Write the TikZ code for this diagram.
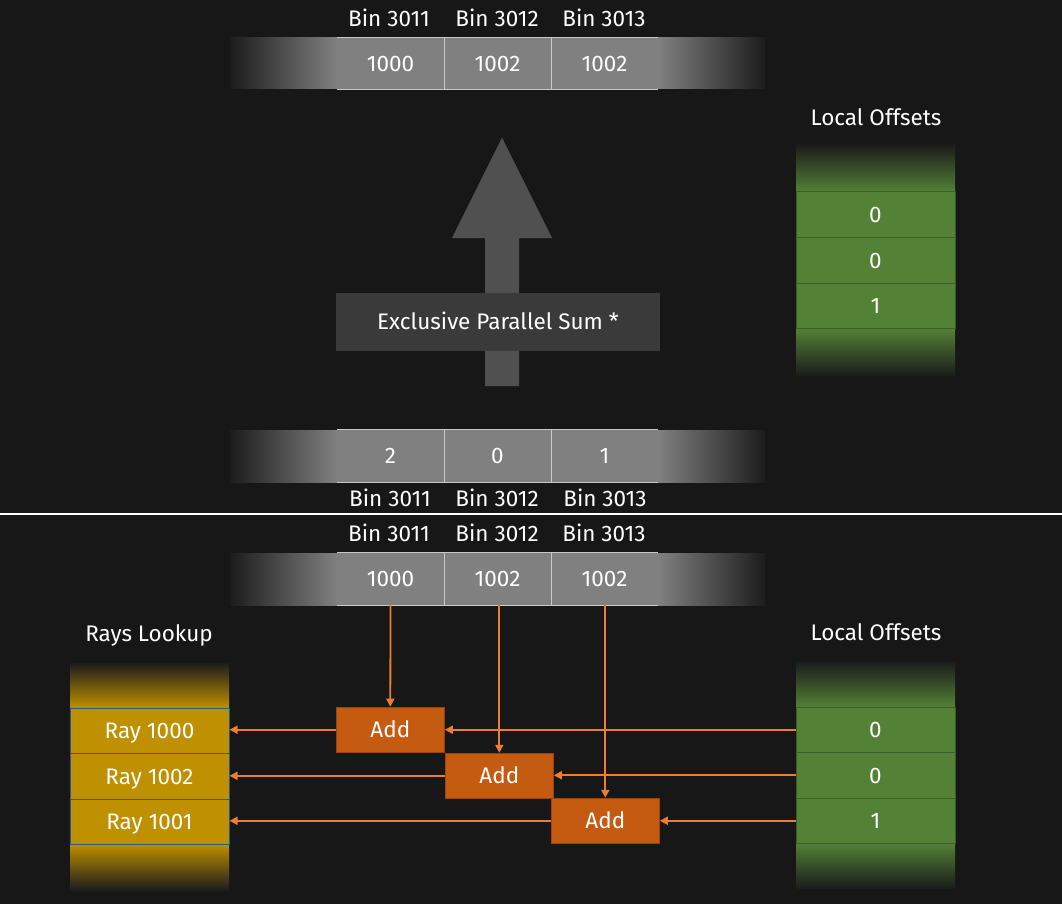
\documentclass[tikz,border=0pt]{standalone}
\usepackage{fontspec}
\setmainfont{Fira Sans}
\usetikzlibrary{arrows.meta}
\definecolor{bg}{HTML}{171717}
\definecolor{fade}{HTML}{1C1C1C}
\definecolor{barcell}{HTML}{808080}
\definecolor{barline}{HTML}{C8C8C8}
\definecolor{biggray}{HTML}{505050}
\definecolor{sumbox}{HTML}{3B3A3A}
\definecolor{green}{HTML}{538135}
\definecolor{greenline}{HTML}{3A5F26}
\definecolor{gold}{HTML}{BF9000}
\definecolor{goldline}{HTML}{2F5597}
\definecolor{addfill}{HTML}{C55A11}
\definecolor{addline}{HTML}{9A420C}
\definecolor{orange}{HTML}{ED7D31}
\begin{document}
\begin{tikzpicture}[x=1pt,y=-1pt,
  txt/.style={text=white, font=\fontsize{22.5}{26}\selectfont, inner sep=0pt, text height=15.5pt, text depth=0pt},
  barcellstyle/.style={txt, fill=barcell, minimum width=107pt, minimum height=51pt, anchor=center},
  gcell/.style={txt, fill=green, draw=greenline, line width=1pt, minimum width=159pt, minimum height=45.5pt},
  ycell/.style={txt, fill=gold, draw=goldline, line width=1pt, minimum width=159pt, minimum height=45.5pt},
  addbox/.style={txt, fill=addfill, draw=addline, line width=1pt, minimum width=108pt, minimum height=45pt},
  conn/.style={draw=orange, line width=1.8pt, -{Triangle[length=8pt,width=8pt]}},
  sepline/.style={draw=white, line width=2.2pt}
]
% background
\fill[bg] (0,0) rectangle (1062,904);
\useasboundingbox (0,0) rectangle (1062,904);

% ================= TOP SECTION =================
% top bar
\fill[left color=fade, right color=barcell] (230,38) rectangle (337,89);
\fill[left color=barcell, right color=fade] (658,38) rectangle (765,89);
\node[barcellstyle] (t1) at (390.5,63.5) {1000};
\node[barcellstyle] (t2) at (497.5,63.5) {1002};
\node[barcellstyle] (t3) at (604.5,63.5) {1002};
\draw[barline, line width=1pt] (t1.north west) -- (t3.north east) (t1.south west) -- (t3.south east)
  (t1.north east) -- (t1.south east) (t2.north east) -- (t2.south east);
\node[txt] (tb1) at (389,19) {Bin 3011};
\node[txt] (tb2) at (497,19) {Bin 3012};
\node[txt] (tb3) at (604,19) {Bin 3013};

% big arrow
\fill[biggray] (485,238) -- (452,238) -- (502,137.5) -- (552,238) -- (519,238) -- (519,386) -- (485,386) -- cycle;
\node[txt, fill=sumbox, minimum width=324pt, minimum height=58pt] (sum) at (498,321.5) {Exclusive Parallel Sum *};

% bottom bar of top section
\fill[left color=fade, right color=barcell] (230,430) rectangle (337,482);
\fill[left color=barcell, right color=fade] (658,430) rectangle (765,482);
\node[barcellstyle, minimum height=52pt] (s1) at (390.5,456) {2};
\node[barcellstyle, minimum height=52pt] (s2) at (497.5,456) {0};
\node[barcellstyle, minimum height=52pt] (s3) at (604.5,456) {1};
\draw[barline, line width=1pt] (s1.north west) -- (s3.north east) (s1.south west) -- (s3.south east)
  (s1.north east) -- (s1.south east) (s2.north east) -- (s2.south east);
\node[txt] (sb1) at (390,499) {Bin 3011};
\node[txt] (sb2) at (497,499) {Bin 3012};
\node[txt] (sb3) at (605,499) {Bin 3013};

% local offsets (top)
\node[txt] (lotitle) at (876,118) {Local Offsets};
\fill[top color=fade, bottom color=green] (796,145) rectangle (955,192);
\fill[top color=green, bottom color=fade] (796,328.5) rectangle (955,375);
\node[gcell] (lo1) at (875.5,214.75) {0};
\node[gcell] (lo2) at (875.5,260.25) {0};
\node[gcell] (lo3) at (875.5,305.75) {1};

% separator
\draw[sepline] (0,514) -- (1062,514);

% ================= BOTTOM SECTION =================
\node[txt] (cb1) at (389,534) {Bin 3011};
\node[txt] (cb2) at (497,534) {Bin 3012};
\node[txt] (cb3) at (604,534) {Bin 3013};
\fill[left color=fade, right color=barcell] (230,553) rectangle (337,605);
\fill[left color=barcell, right color=fade] (658,553) rectangle (765,605);
\node[barcellstyle, minimum height=52pt] (c1) at (390.5,579) {1000};
\node[barcellstyle, minimum height=52pt] (c2) at (497.5,579) {1002};
\node[barcellstyle, minimum height=52pt] (c3) at (604.5,579) {1002};
\draw[barline, line width=1pt] (c1.north west) -- (c3.north east) (c1.south west) -- (c3.south east)
  (c1.north east) -- (c1.south east) (c2.north east) -- (c2.south east);

% rays lookup
\node[txt] (raytitle) at (149,634) {Rays Lookup};
\fill[top color=fade, bottom color=gold] (70,663) rectangle (229,708);
\fill[top color=gold, bottom color=fade] (70,844) rectangle (229,890);
\node[ycell] (r1) at (149.5,730.75) {Ray 1000};
\node[ycell] (r2) at (149.5,776.25) {Ray 1002};
\node[ycell] (r3) at (149.5,821.75) {Ray 1001};

% local offsets (bottom)
\node[txt] (lbtitle) at (876,633) {Local Offsets};
\fill[top color=fade, bottom color=green] (796,662) rectangle (955,707);
\fill[top color=green, bottom color=fade] (796,843) rectangle (955,888);
\node[gcell] (b1) at (875.5,729.75) {0};
\node[gcell] (b2) at (875.5,775.25) {0};
\node[gcell] (b3) at (875.5,820.75) {1};

% add boxes
\node[addbox] (a1) at (390.3,729.7) {Add};
\node[addbox] (a2) at (499.3,775.8) {Add};
\node[addbox] (a3) at (605.3,820.8) {Add};

% horizontal connectors
\draw[conn] (b1.west) -- (b1.west -| a1.east);
\draw[conn] (b2.west) -- (b2.west -| a2.east);
\draw[conn] (b3.west) -- (b3.west -| a3.east);
\draw[conn] (a1.west) -- (a1.west -| r1.east);
\draw[conn] (a2.west) -- (a2.west -| r2.east);
\draw[conn] (a3.west) -- (a3.west -| r3.east);

% vertical connectors
\draw[conn] (c1.south) -- (a1.north);
\draw[conn] (c2.south -| a2.north) -- (a2.north);
\draw[conn] (c3.south -| a3.north) -- (a3.north);
\end{tikzpicture}
\end{document}
